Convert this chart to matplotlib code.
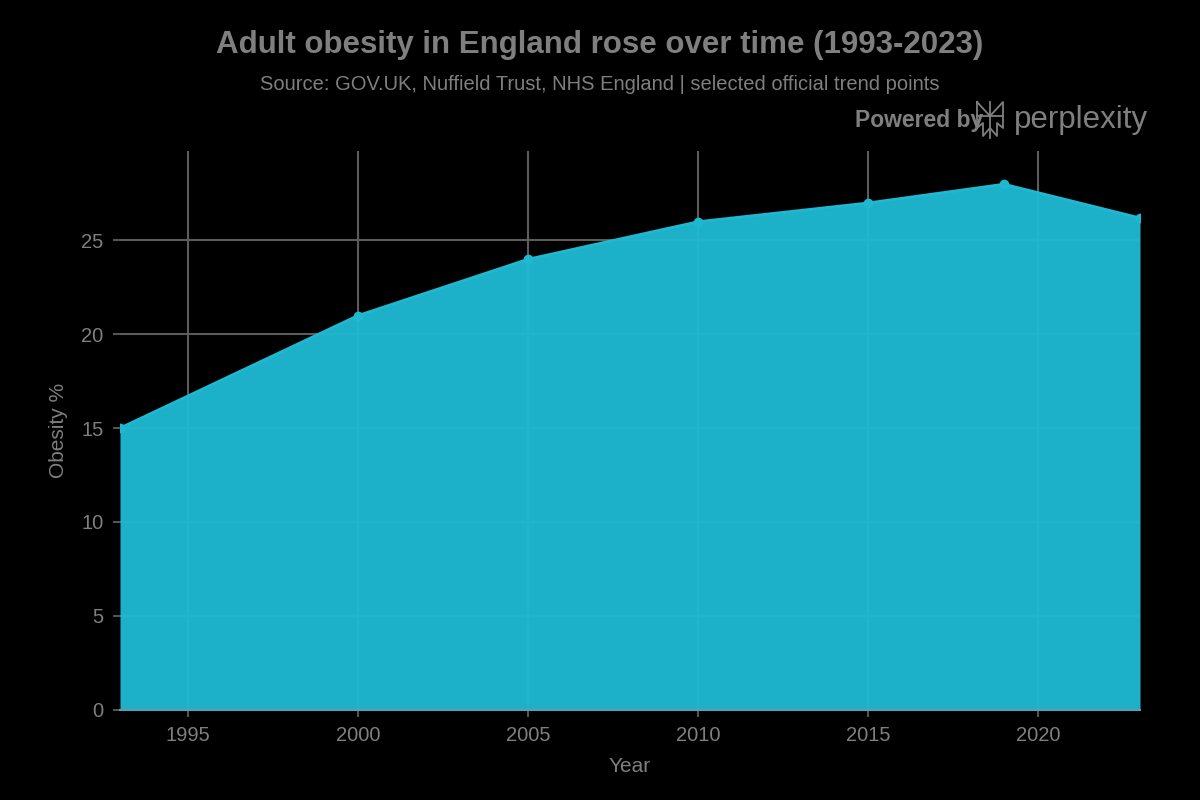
import matplotlib
matplotlib.use('Agg')
import matplotlib.pyplot as plt
from matplotlib.lines import Line2D

# values
years = [1993, 2000, 2005, 2010, 2015, 2019, 2023]
obesity = [15, 21, 24, 26, 27, 28, 26.2]
x_ticks = [1995, 2000, 2005, 2010, 2015, 2020]
y_ticks = [0, 5, 10, 15, 20, 25]

title = 'Adult obesity in England rose over time (1993-2023)'
subtitle = 'Source: GOV.UK, Nuffield Trust, NHS England | selected official trend points'

text_col = '#7f7f7f'
fill_col = '#1fb8d1'
grid_col = '#5c5c5c'

plt.rcParams['font.family'] = ['Liberation Sans', 'DejaVu Sans']

W, H = 1200, 800
fig = plt.figure(figsize=(12, 8), dpi=100, facecolor='black')
ax = fig.add_axes([120 / W, 1 - 709.5 / H, 1020 / W, 558.5 / H], facecolor='black')

ax.grid(True, color=grid_col, linewidth=1.5, zorder=1)
ax.set_axisbelow(True)
ax.fill_between(years, obesity, 0, color=fill_col, alpha=0.97, linewidth=0, zorder=2)
ax.plot(years, obesity, color=fill_col, linewidth=2, marker='o', markersize=6,
        zorder=3, clip_on=True)

ax.set_xlim(1993, 2023)
ax.set_ylim(0, 29.77)
ax.set_xticks(x_ticks)
ax.set_yticks(y_ticks)
ax.tick_params(colors=text_col, labelsize=14.5, length=5, width=1.2, color='#666666', pad=7)
for s in ['top', 'right']:
    ax.spines[s].set_visible(False)
ax.spines['left'].set_visible(False)
ax.spines['bottom'].set_color('#5f9ea8')
ax.spines['bottom'].set_linewidth(1.5)
ax.spines['bottom'].set_zorder(4)

fig.text(600 / W, 1 - 45 / H, title, color=text_col, fontsize=22.5, fontweight='bold',
         ha='center', va='center')
fig.text(600 / W, 1 - 85 / H, subtitle, color=text_col, fontsize=14.5, ha='center', va='center')
fig.text(632 / W * 1, 1, '', color=text_col)
fig.text(615 / W, 1 - 766 / H, 'Year', color=text_col, fontsize=15, ha='left', va='center', alpha=0)
fig.text(630 / W, 1 - 766 / H, 'Year', color=text_col, fontsize=15, ha='center', va='center')
fig.text(59 / W, 1 - 430 / H, 'Obesity %', color=text_col, fontsize=15, rotation=90,
         ha='center', va='center')

# Powered by perplexity badge
fig.text(855 / W, 1 - 120 / H, 'Powered by', color=text_col, fontsize=16.5, fontweight='bold',
         ha='left', va='center')
fig.text(1014 / W, 1 - 120 / H, 'perplexity', color=text_col, fontsize=22.5,
         ha='left', va='center')
logo = [
    [(990, 102), (990, 138)],
    [(977, 102), (990, 116), (1003, 102), (1003, 116), (990, 116), (977, 116), (977, 102)],
    [(977, 116), (977, 128), (983, 123), (983, 136), (990, 128), (997, 136), (997, 123),
     (1003, 128), (1003, 116)],
]
for seg in logo:
    fig.add_artist(Line2D([p[0] / W for p in seg], [1 - p[1] / H for p in seg],
                          color=text_col, linewidth=1.3))

fig.savefig('out.png', dpi=100, facecolor='black')
